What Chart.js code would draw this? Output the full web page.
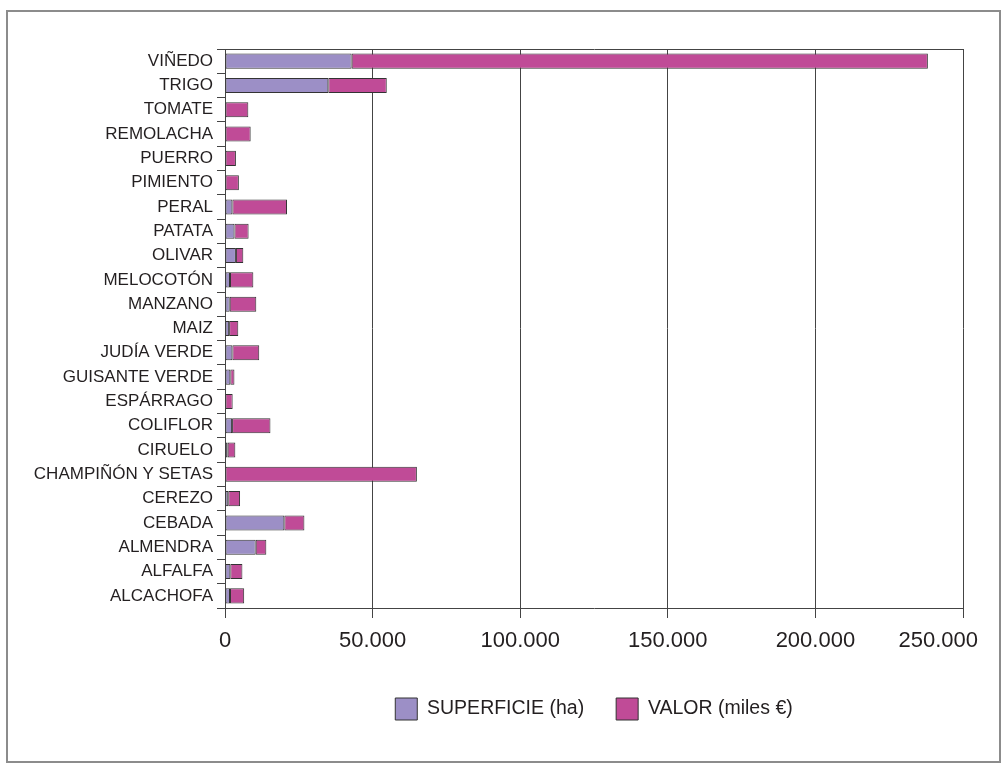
<!DOCTYPE html>
<html>
<head>
<meta charset="utf-8">
<script src="https://cdn.jsdelivr.net/npm/chart.js@4/dist/chart.umd.min.js"></script>
<style>
  html, body { margin: 0; padding: 0; background: #ffffff; }
  #wrap { position: relative; width: 1005px; height: 768px; }
  #frame { position: absolute; left: 6px; top: 10px; width: 995px; height: 753px; box-sizing: border-box; border: 2px solid #8c8c8c; pointer-events: none; }
  canvas { position: absolute; left: 0; top: 0; }
</style>
</head>
<body>
<div id="wrap">
  <canvas id="c" width="1005" height="768"></canvas>
  <div id="frame"></div>
</div>
<script>
const categories = ['VIÑEDO','TRIGO','TOMATE','REMOLACHA','PUERRO','PIMIENTO','PERAL','PATATA','OLIVAR','MELOCOTÓN','MANZANO','MAIZ','JUDÍA VERDE','GUISANTE VERDE','ESPÁRRAGO','COLIFLOR','CIRUELO','CHAMPIÑÓN Y SETAS','CEREZO','CEBADA','ALMENDRA','ALFALFA','ALCACHOFA'];
const superficie = [42900, 35000, 0, 0, 0, 0, 2500, 3200, 3700, 1700, 1600, 1400, 2500, 1800, 0, 2400, 900, 0, 1100, 20100, 10400, 1800, 1700];
const valor = [195200, 19800, 7900, 8700, 3700, 4700, 18500, 4800, 2500, 7900, 9000, 3100, 9100, 1400, 2600, 13000, 2600, 65000, 4000, 6800, 3600, 4100, 4800];
const seriesNames = ['SUPERFICIE (ha)', 'VALOR (miles €)'];
const xTicks = [0, 50000, 100000, 150000, 200000, 250000];

const FONT = "'Liberation Sans', Arial, Helvetica, sans-serif";
const TEXT = '#231f20';
const LINE = '#444444';

function fmt(v) {
  return String(Math.round(v)).replace(/\B(?=(\d{3})+(?!\d))/g, '.');
}

const frameBorder = {
  id: 'frameBorder',
  afterDatasetsDraw(chart) {
    const a = chart.chartArea, ctx = chart.ctx;
    ctx.save();
    ctx.strokeStyle = LINE;
    ctx.lineWidth = 1;
    ctx.beginPath();
    ctx.moveTo(Math.round(a.left) + 0.5, Math.round(a.top) + 0.5);
    ctx.lineTo(Math.round(a.right) + 0.5, Math.round(a.top) + 0.5);
    ctx.stroke();
    ctx.restore();
  }
};

const legendUnderPlot = {
  id: 'legendUnderPlot',
  afterLayout(chart) {
    const lg = chart.legend;
    if (lg) {
      lg.left = chart.chartArea.left;
      lg.right = chart.chartArea.right;
    }
  }
};

// keep the last x tick label inside the outer frame
const lastLabelInside = {
  id: 'lastLabelInside',
  beforeDraw(chart) {
    const sc = chart.scales.x;
    const items = sc.getLabelItems();
    if (!items.length) return;
    const last = items[items.length - 1];
    if (!last._shifted) {
      const ctx = chart.ctx;
      ctx.save();
      ctx.font = last.font.string;
      const w = ctx.measureText(String(last.label)).width;
      ctx.restore();
      const maxRight = 978;
      const cx = last.options.translation[0];
      if (cx + w / 2 > maxRight) last.options.translation[0] = maxRight - w / 2;
      last._shifted = true;
    }
  }
};

new Chart(document.getElementById('c'), {
  type: 'bar',
  data: {
    labels: categories,
    datasets: [
      { label: seriesNames[0], data: superficie, backgroundColor: '#9c8fc6', borderColor: '#333333', borderWidth: 1, borderSkipped: false, barPercentage: 0.62, categoryPercentage: 1 },
      { label: seriesNames[1], data: valor, backgroundColor: '#c04b97', borderColor: '#333333', borderWidth: 1, borderSkipped: false, barPercentage: 0.62, categoryPercentage: 1 }
    ]
  },
  options: {
    indexAxis: 'y',
    responsive: false,
    animation: false,
    devicePixelRatio: 1,
    layout: { padding: { left: 0, right: 42, top: 49, bottom: 38 } },
    scales: {
      x: {
        stacked: true,
        min: 0, max: 250000,
        afterBuildTicks(scale) { scale.ticks = xTicks.map(v => ({ value: v })); },
        afterFit(scale) { scale.height = 58; scale.paddingRight = 0; scale.paddingLeft = 0; },
        ticks: { callback: v => fmt(v), color: TEXT, font: { family: FONT, size: 22 }, padding: 10, maxRotation: 0 },
        grid: { color: LINE, lineWidth: 1, drawTicks: true, tickLength: 10, tickColor: LINE },
        border: { display: true, color: LINE, width: 1 }
      },
      y: {
        stacked: true,
        afterFit(scale) { scale.width = 225; },
        ticks: { color: TEXT, font: { family: FONT, size: 17 }, padding: 4, autoSkip: false },
        grid: { offset: true, drawOnChartArea: false, drawTicks: true, tickLength: 8, color: LINE, tickColor: LINE },
        border: { display: true, color: LINE, width: 1 }
      }
    },
    plugins: {
      legend: {
        position: 'bottom',
        labels: { boxWidth: 22, boxHeight: 22, padding: 32, color: TEXT, font: { family: FONT, size: 19.5 } }
      },
      tooltip: { enabled: false }
    }
  },
  plugins: [frameBorder, legendUnderPlot, lastLabelInside]
});
</script>
</body>
</html>
